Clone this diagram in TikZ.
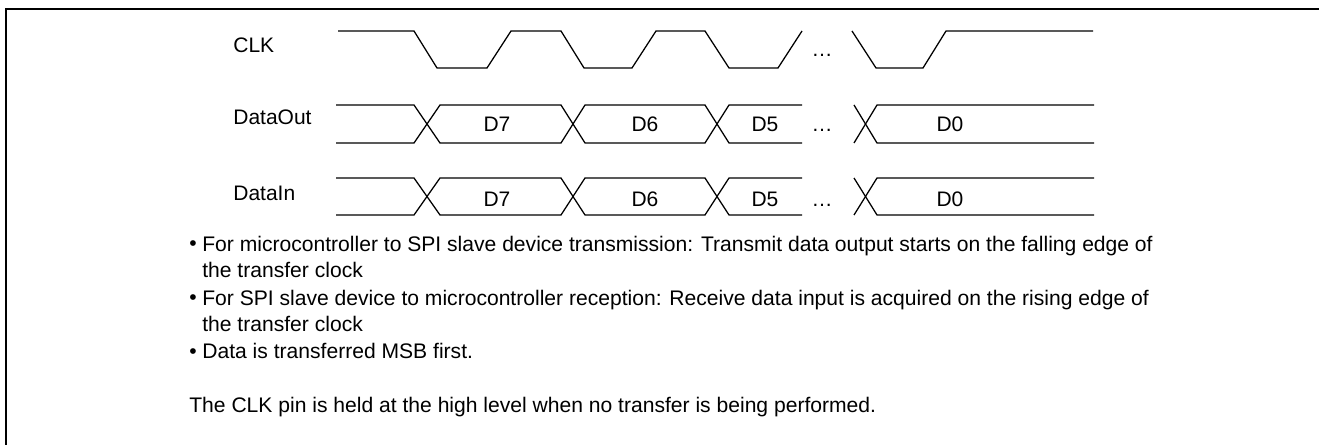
\documentclass[tikz,border=0pt]{standalone}
\usepackage{fontspec}
\setmainfont{Liberation Sans}
\usetikzlibrary{positioning}

\begin{document}
\begin{tikzpicture}[x=0.02cm, y=-0.02cm,
		font=\fontsize{11.95}{16}\selectfont,
		wave/.style={line width=0.72pt, line join=miter},
		frame/.style={line width=1.6pt},
		signame/.style={anchor=west, inner sep=0pt},
		bitname/.style={inner sep=0pt},
		note/.style={anchor=base west, inner sep=0pt, align=left, font=\fontsize{12}{15.36}\selectfont}]
		
		\useasboundingbox (0,0) rectangle (1319,445);
		
		% Draw the frame
		\draw[frame] (6,445) -- (6,9) -- (1319,9);
		
		% Draw the signal names
		\node (clk) [signame] at (233,45) {CLK};
		\node (dout) [signame] at (233,117) {DataOut};
		\node (din) [signame] at (233,193) {DataIn};
		
		% Draw the clock
		\draw[wave] (338,31) -- (414,31) -- (437,68) -- (487,68) -- (511,31) -- (561,31) -- (584,68) -- (632,68) -- (656,31) -- (705,31) -- (729,68) -- (778,68) -- (802,31);
		\node (clkdots) [bitname] at (822,55) {\dots};
		\draw[wave] (852,31) -- (876,68) -- (923,68) -- (946,31) -- (1093,31);
		
		% Draw the output data
		\draw[wave] (336,105) -- (414,105) -- (440,143) -- (561,143) -- (585,105) -- (705,105) -- (729,143) -- (802,143);
		\draw[wave] (336,143) -- (414,143) -- (440,105) -- (561,105) -- (585,143) -- (705,143) -- (729,105) -- (802,105);
		\draw[wave] (854,105) -- (877,143) -- (1094,143);
		\draw[wave] (854,143) -- (877,105) -- (1094,105);
		\node (dout7) [bitname] at (497,124) {D7};
		\node (dout6) [bitname] at (645,124) {D6};
		\node (dout5) [bitname] at (765,124) {D5};
		\node (doutdots) [bitname] at (822,130) {\dots};
		\node (dout0) [bitname] at (950,124) {D0};
		
		% Draw the input data
		\draw[wave] (336,178) -- (414,178) -- (440,215) -- (561,215) -- (585,178) -- (705,178) -- (729,215) -- (802,215);
		\draw[wave] (336,215) -- (414,215) -- (440,178) -- (561,178) -- (585,215) -- (705,215) -- (729,178) -- (802,178);
		\draw[wave] (854,178) -- (877,215) -- (1094,215);
		\draw[wave] (854,215) -- (877,178) -- (1094,178);
		\node (din7) [bitname] at (497,199) {D7};
		\node (din6) [bitname] at (645,199) {D6};
		\node (din5) [bitname] at (765,199) {D5};
		\node (dindots) [bitname] at (822,205) {\dots};
		\node (din0) [bitname] at (950,199) {D0};
		
		% Add the notes (base of a two-line note is its last line)
		\node (dot1) [note] at (189,251) {•};
		\node (note1) [note] at (202,278) {For microcontroller to SPI slave device transmission: Transmit data output starts on the falling edge of\\the transfer clock};
		\node (dot2) [note] at (189,305) {•};
		\node (note2) [note] at (202,332) {For SPI slave device to microcontroller reception: Receive data input is acquired on the rising edge of\\the transfer clock};
		\node (dot3) [note] at (189,359) {•};
		\node (note3) [note] at (202,359) {Data is transferred MSB first.};
		\node (idle) [note] at (189,413) {The CLK pin is held at the high level when no transfer is being performed.};
\end{tikzpicture}
\end{document}
